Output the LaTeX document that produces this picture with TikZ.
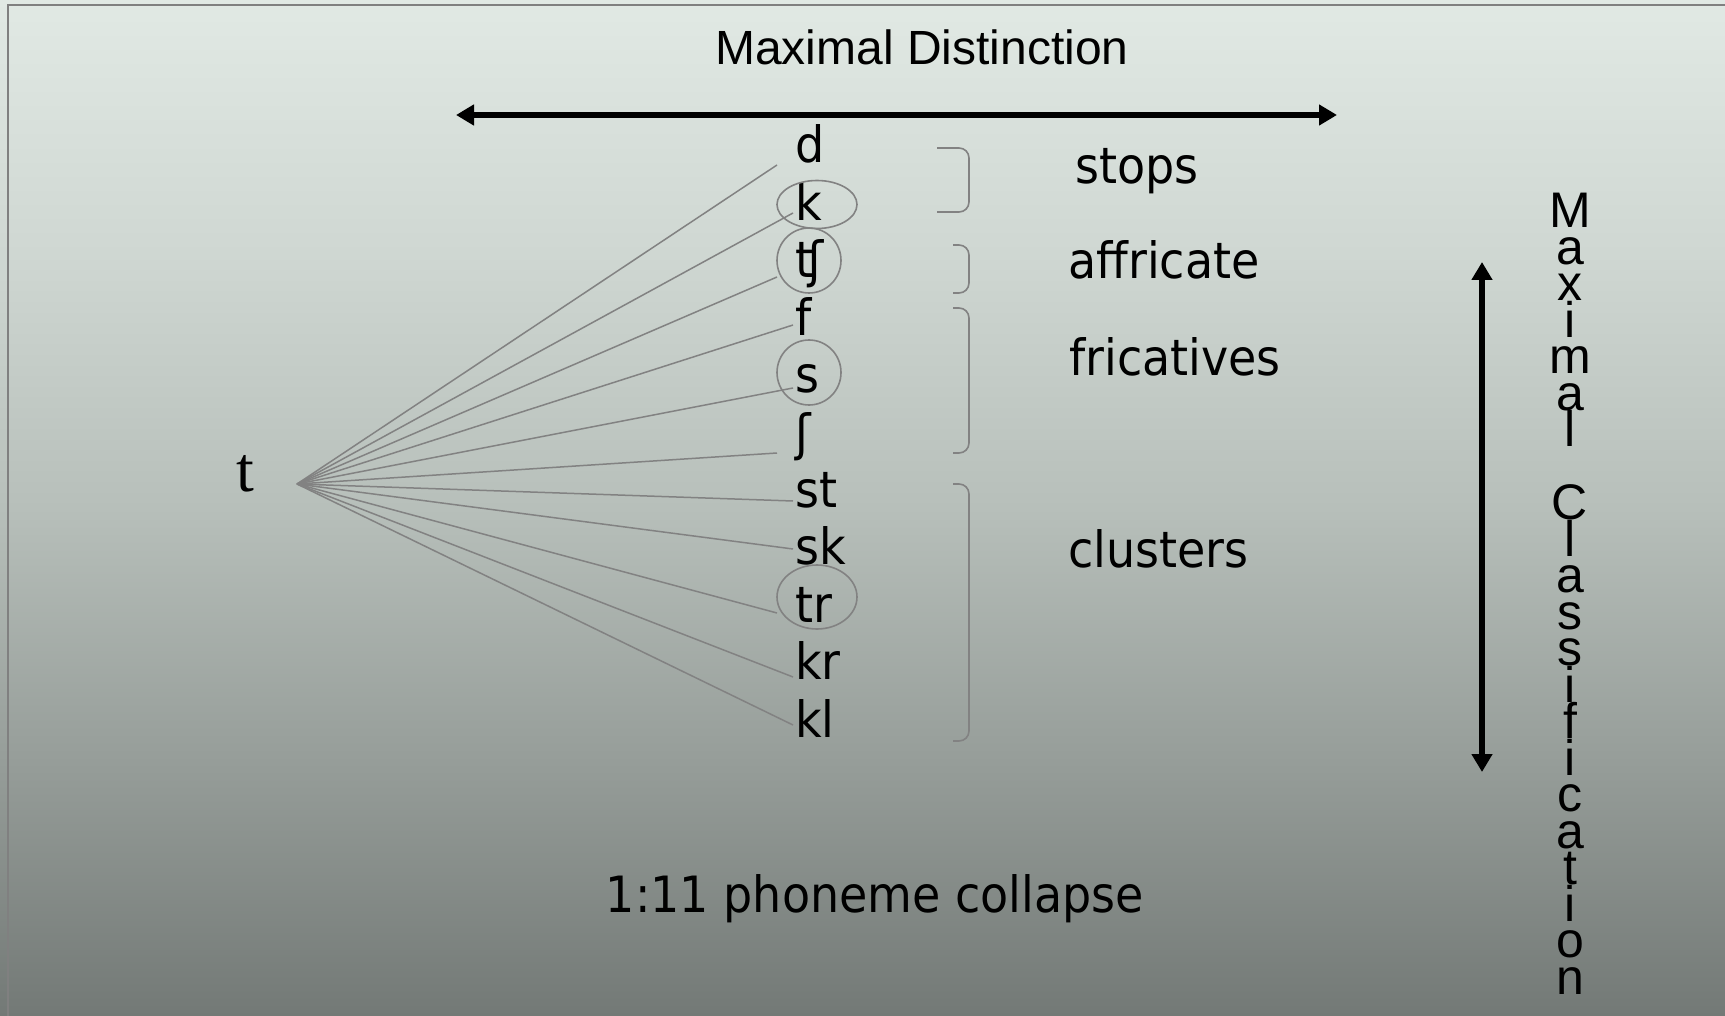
\documentclass[tikz,border=0pt]{standalone}
\usepackage{fontspec}
\setmainfont{DejaVu Sans}
\newfontfamily\lucida{DejaVu Sans}[FakeStretch=0.92]
\newfontfamily\arialf{Liberation Sans}
\newfontfamily\seriff{Liberation Serif}
\usetikzlibrary{arrows.meta}
\definecolor{bgA}{RGB}{225,233,228}
\definecolor{bgB}{RGB}{207,215,210}
\definecolor{bgC}{RGB}{183,191,186}
\definecolor{bgD}{RGB}{150,157,153}
\definecolor{bgE}{RGB}{115,121,118}
\definecolor{lineGray}{RGB}{130,130,130}
\definecolor{frameGray}{RGB}{128,128,128}
\pgfdeclareverticalshading{slidebg}{100bp}{color(0bp)=(bgE); color(25bp)=(bgE); color(37.5bp)=(bgD); color(50bp)=(bgC); color(62.5bp)=(bgB); color(75bp)=(bgA); color(100bp)=(bgA)}
\begin{document}
\begin{tikzpicture}[x=1pt,y=-1pt,
  seg/.style={font=\lucida\fontsize{50}{60}\selectfont, inner sep=0pt, anchor=base west},
  lab/.style={font=\lucida\fontsize{50}{60}\selectfont, inner sep=0pt, anchor=base west},
  fan/.style={draw=lineGray, line width=1.5pt},
  ring/.style={draw=lineGray, line width=1.6pt},
  brk/.style={draw=lineGray, line width=1.6pt, rounded corners=10pt},
  bigarrow/.style={line width=6pt, {Triangle[length=18pt,width=20pt]}-{Triangle[length=18pt,width=20pt]}},
  vstack/.style={font={\arialf\fontsize{50}{36.5}\selectfont\lineskiplimit=-100pt\lineskip=0pt}, inner sep=0pt, align=center, anchor=north}
]
\shade[shading=slidebg] (0,0) rectangle (1725,1016);
\useasboundingbox (0,0) rectangle (1725,1016);
\draw[draw=frameGray, line width=2pt] (8,1016) -- (8,5) -- (1725,5);

% title and horizontal arrow
\node[font=\arialf\fontsize{48}{56}\selectfont, inner sep=0pt, anchor=base] (title) at (922,65) {Maximal Distinction};
\coordinate (hl) at (456,115);
\coordinate (hr) at (1337,115);
\draw[bigarrow] (hl) -- (hr);

% source phoneme
\node[font=\seriff\fontsize{64}{70}\selectfont, inner sep=0pt, anchor=base] (tnode) at (245,491) {t};

% target segments
\node[seg] (pd)  at (795,163)   {d};
\node[seg] (pk)  at (795,220.4) {k};
\node[seg] (pch) at (795,277.8) {ʧ};
\node[seg] (pf)  at (795,335.2) {f};
\node[seg] (ps)  at (795,392.6) {s};
\node[seg] (psh) at (795,450)   {ʃ};
\node[seg] (pst) at (795,507.4) {st};
\node[seg] (psk) at (795,564.8) {sk};
\node[seg] (ptr) at (795,622.2) {tr};
\node[seg] (pkr) at (795,679.6) {kr};
\node[seg] (pkl) at (795,737)   {kl};

% fan
\coordinate (o) at (297,484);
\coordinate (ed)  at (777,165);
\coordinate (ek)  at (793,213);
\coordinate (ech) at (777,277);
\coordinate (ef)  at (793,325);
\coordinate (es)  at (793,388);
\coordinate (esh) at (777,453);
\coordinate (est) at (793,501);
\coordinate (esk) at (793,549);
\coordinate (etr) at (777,613);
\coordinate (ekr) at (793,677);
\coordinate (ekl) at (793,725);
\foreach \e in {ed,ek,ech,ef,es,esh,est,esk,etr,ekr,ekl}
  \draw[fan] (o) -- (\e);

% circled segments
\draw[ring] (817,204.5) ellipse [x radius=40pt, y radius=24pt];
\draw[ring] (809,260.5) ellipse [x radius=32pt, y radius=32.5pt];
\draw[ring] (809,372.5) ellipse [x radius=32pt, y radius=32.5pt];
\draw[ring] (817,597) ellipse [x radius=40pt, y radius=32pt];

% brackets
\draw[brk] (937,148) -- (969,148) -- (969,212) -- (937,212);
\draw[brk] (953,245) -- (969,245) -- (969,293) -- (953,293);
\draw[brk] (953,308) -- (969,308) -- (969,453) -- (953,453);
\draw[brk] (953,484) -- (969,484) -- (969,741) -- (953,741);

% class labels
\node[lab] (lstops) at (1075,184) {stops};
\node[lab] (laff)   at (1068,279) {affricate};
\node[lab] (lfric)  at (1069,376) {fricatives};
\node[lab] (lclus)  at (1068,567) {clusters};

\node[lab, anchor=base] (collapse) at (875,912) {1:11 phoneme collapse};

% vertical arrow and label
\coordinate (vtop) at (1482,262);
\coordinate (vbot) at (1482,772);
\draw[bigarrow] (vtop) -- (vbot);
\node[vstack] (vlabel) at (1570,193) {M\\a\\x\\i\\m\\a\\l\\\mbox{}\\C\\l\\a\\s\\s\\i\\f\\i\\c\\a\\t\\i\\o\\n};
\end{tikzpicture}
\end{document}
